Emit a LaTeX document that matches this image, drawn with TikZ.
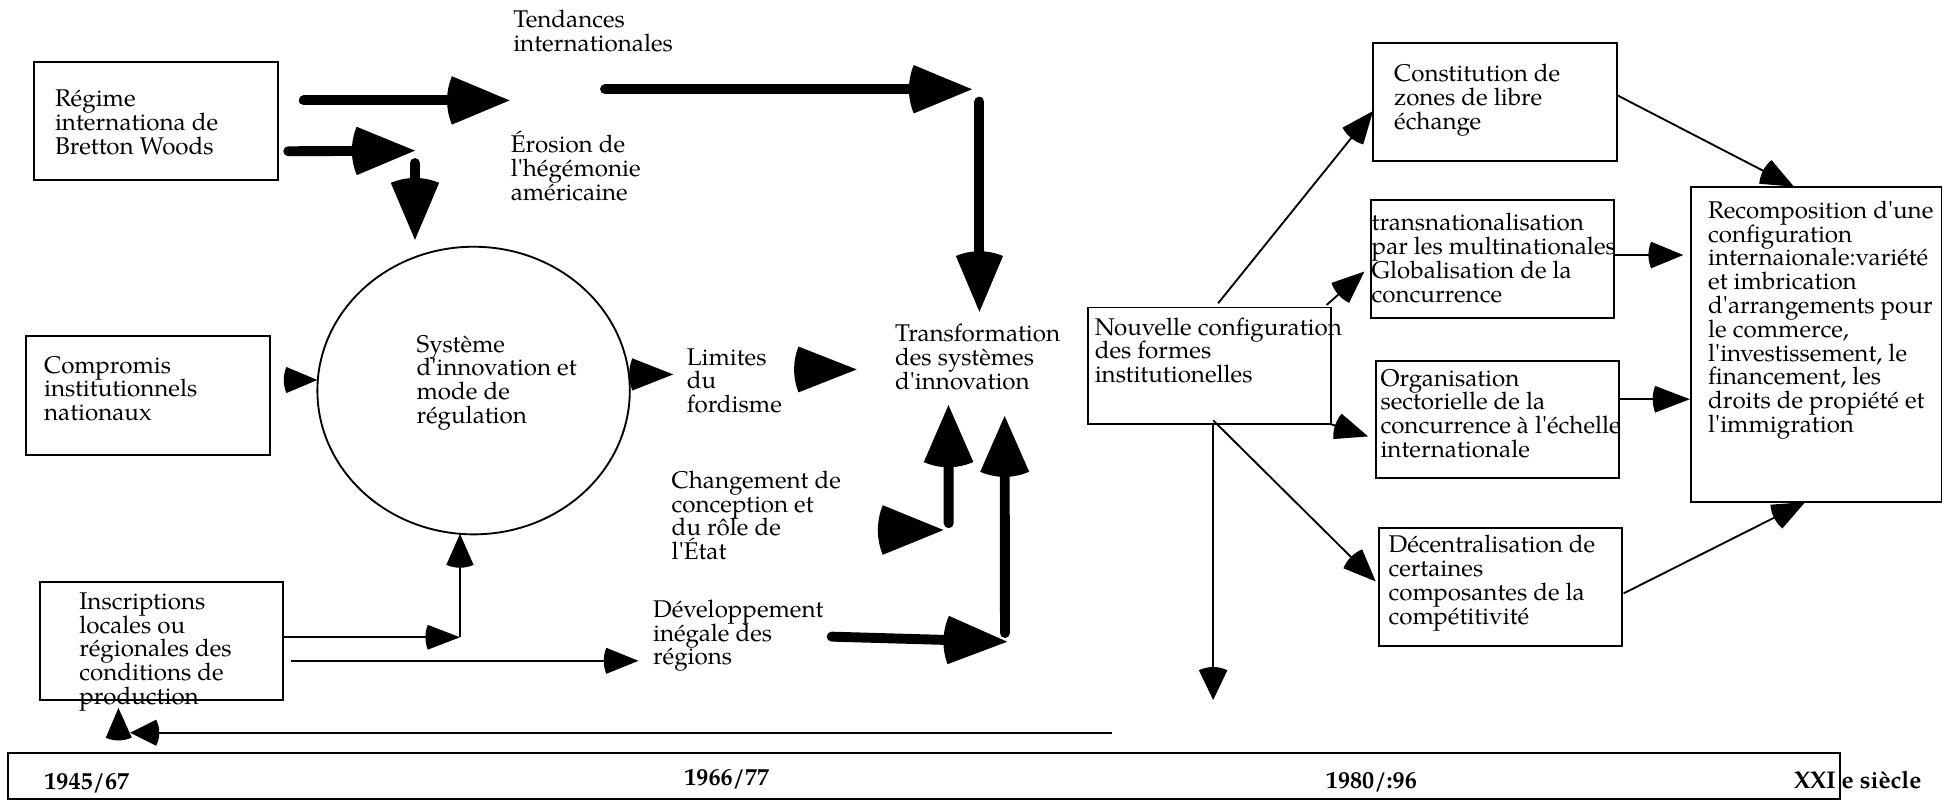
\documentclass[tikz,border=0pt]{standalone}
\usepackage{fontspec}
\setmainfont{TeX Gyre Pagella}[Ligatures=TeXOff]
\usetikzlibrary{arrows.meta,shapes.geometric}

% Arrow head shaped like a fan: straight sides, back edge an arc centred on the tip
\pgfdeclarearrow{
  name = Fan,
  parameters = {\the\pgfarrowlength,\the\pgfarrowwidth},
  setup code = {
    \pgfarrowssettipend{0pt}
    \pgfarrowssetlineend{-0.5\pgfarrowlength}
    \pgfarrowssetbackend{-\pgfarrowlength}
    \pgfarrowshullpoint{0pt}{0pt}
    \pgfarrowshullpoint{-\pgfarrowlength}{0.5\pgfarrowwidth}
    \pgfarrowshullpoint{-\pgfarrowlength}{-0.5\pgfarrowwidth}
    \pgfarrowssavethe\pgfarrowlength
    \pgfarrowssavethe\pgfarrowwidth
  },
  drawing code = {
    \pgfmathsetmacro\fanR{veclen(\pgfarrowlength,0.5*\pgfarrowwidth)}
    \pgfmathsetmacro\fanA{atan2(0.5*\pgfarrowwidth,\pgfarrowlength)}
    \pgfmathsetmacro\fanB{180-\fanA}
    \pgfmathsetmacro\fanC{180+\fanA}
    \pgfpathmoveto{\pgfpointorigin}
    \pgfpathlineto{\pgfpointpolar{\fanB}{\fanR pt}}
    \pgfpatharc{\fanB}{\fanC}{\fanR pt}
    \pgfpathclose
    \pgfusepathqfill
  },
  defaults = {length = 26pt, width = 22pt}
}

% left-aligned block of lines, baseline on the first line
\newcommand\lines[1]{\vtop{\lineskiplimit=-\maxdimen\halign{##\hfil\cr#1\crcr}}}

\tikzset{
  box/.style={draw, line width=1.5pt, rectangle, inner sep=0pt, outer sep=0pt, anchor=north west},
  txt/.style={inner sep=0pt, outer sep=0pt, anchor=base west,
              font=\fontsize{19.5}{19.2}\selectfont},
  yearlbl/.style={txt, font=\fontsize{19.5}{19.2}\selectfont\bfseries},
  heavy/.style={line width=8pt, line cap=round, -{Fan[length=46pt,width=39pt]}},
  thinarrow/.style={line width=1.5pt, -{Fan[length=26pt,width=21.5pt]}},
  headonly/.style={line cap=butt},
}

\begin{document}
\begin{tikzpicture}[x=1pt,y=-1pt]
\useasboundingbox (0,0) rectangle (1568,646);

% ---------- boxes ----------
\node[box, minimum width=196.8pt, minimum height=95.3pt] (regime) at (27.7,49.7) {};
\node[box, minimum width=197pt, minimum height=96pt] (comp) at (21,271) {};
\node[box, minimum width=196.2pt, minimum height=95pt] (inscr) at (32.3,469.6) {};
\node[draw, ellipse, line width=1.5pt, inner sep=0pt,
      minimum width=252pt, minimum height=232pt] (sys) at (382,315) {};
\node[box, minimum width=195.6pt, minimum height=94.3pt] (nouv) at (877.7,248) {};
\node[box, minimum width=196.5pt, minimum height=95.6pt] (const) at (1107.5,34.4) {};
\node[box, minimum width=196pt, minimum height=95pt] (transnat) at (1106,161.5) {};
\node[box, minimum width=196pt, minimum height=94.8pt] (organ) at (1110,291) {};
\node[box, minimum width=196pt, minimum height=95pt] (decent) at (1112,426) {};
\node[box, minimum width=202.3pt, minimum height=254.1pt] (recomp) at (1363.7,150.6) {};
\node[box, minimum width=1477.3pt, minimum height=37.6pt] (periods) at (6.7,607) {};

% ---------- texts ----------
\node[txt] (tTend) at (414,22.3) {\lines{Tendances\cr internationales}};
\node[txt] (tEros) at (412,123.4) {\lines{Érosion de\cr l'hégémonie\cr américaine}};
\node[txt] (tRegime) at (44.4,86) {\lines{Régime\cr internationa de\cr Bretton Woods}};
\node[txt] (tComp) at (35.6,301) {\lines{Compromis\cr institutionnels\cr nationaux}};
\node[txt] (tSys) at (336,284) {\lines{Système\cr d'innovation et\cr mode de\cr régulation}};
\node[txt] (tLim) at (554,294.4) {\lines{Limites\cr du\cr fordisme}};
\node[txt] (tTrans) at (722,275.6) {\lines{Transformation\cr des systèmes\cr d'innovation}};
\node[txt] (tChg) at (541.8,393.9) {\lines{Changement de\cr conception et\cr du rôle de\cr l'État}};
\node[txt] (tDev) at (526.8,497.9) {\lines{Développement\cr inégale des\cr régions}};
\node[txt] (tInscr) at (64,491.5) {\lines{Inscriptions\cr locales ou\cr régionales des\cr conditions de\cr production}};
\node[txt] (tNouv) at (883,270.2) {\lines{Nouvelle configuration\cr des formes\cr institutionelles}};
\node[txt] (tConst) at (1124.5,66) {\lines{Constitution de\cr zones de libre\cr échange}};
\node[txt] (tTransnat) at (1106.4,186) {\lines{transnationalisation\cr par les multinationales\cr Globalisation de la\cr concurrence}};
\node[txt] (tOrgan) at (1113.5,311.4) {\lines{Organisation\cr sectorielle de la\cr concurrence à l'échelle\cr internationale}};
\node[txt] (tDecent) at (1120,446) {\lines{Décentralisation de\cr certaines\cr composantes de la\cr compétitivité}};
\node[txt] (tRecomp) at (1377.8,176) {\lines{Recomposition d'une\cr configuration\cr internaionale:variété\cr et imbrication\cr d'arrangements pour\cr le commerce,\cr l'investissement, le\cr financement, les\cr droits de propiété et\cr l'immigration}};

\node[yearlbl] (y1) at (35.8,636.5) {1945/67};
\node[yearlbl] (y2) at (552,633.5) {1966/77};
\node[yearlbl] (y3) at (1069.5,636) {1980/:96};
\node[yearlbl] (y4) at (1447,636) {XXI e siècle};

% ---------- connector end points ----------
\coordinate (a1s) at (245,81);      \coordinate (a1e) at (411,81);
\coordinate (a2s) at (232.5,122);   \coordinate (a2e) at (334.7,121.5);
\coordinate (a3s) at (334.7,131.5); \coordinate (a3e) at (334.7,193.5);
\coordinate (a4s) at (488,72);      \coordinate (a4e) at (784,72);
\coordinate (a5s) at (790,82);      \coordinate (a5e) at (790,251.5);
\coordinate (hcs) at (231,306.5);   \coordinate (hce) at (256,306.5);
\coordinate (hss) at (510,302);     \coordinate (hse) at (543,302);
\coordinate (hls) at (644,298);     \coordinate (hle) at (691,298);
\coordinate (hgs) at (712,427.5);   \coordinate (hge) at (761,427.5);
\coordinate (vgs) at (765.2,422);   \coordinate (vge) at (765,326.7);
\coordinate (dvs) at (670.8,513.5); \coordinate (dve) at (812.4,517.6);
\coordinate (vds) at (810.6,510.6); \coordinate (vde) at (810.3,335.5);
\coordinate (i1s) at (228.5,514);   \coordinate (i1c) at (371,514);
\coordinate (i1e) at (371,430.6);
\coordinate (i2s) at (235,533);     \coordinate (i2e) at (515,533);
\coordinate (bks) at (897,591);     \coordinate (bke) at (105,591);
\coordinate (bus) at (95.8,595);    \coordinate (bue) at (95.5,571);
\coordinate (nds) at (978.5,342.3); \coordinate (nde) at (978.5,564.6);
\coordinate (ncs) at (982.5,244.6); \coordinate (nce) at (1107.5,89.5);
\coordinate (nts) at (1070,246);    \coordinate (nte) at (1100.5,219);
\coordinate (nos) at (1073,342);    \coordinate (noe) at (1103.5,352);
\coordinate (nes) at (978.5,339);   \coordinate (nee) at (1109.6,469);
\coordinate (crs) at (1304,76.6);   \coordinate (cre) at (1447,150.6);
\coordinate (trs) at (1302.6,205.7);\coordinate (tre) at (1357.7,205.7);
\coordinate (ors) at (1305,322);    \coordinate (ore) at (1363,322);
\coordinate (drs) at (1309.6,478.6);\coordinate (dre) at (1456,405);

% ---------- heavy arrows ----------
\draw[heavy, -{Fan[length=46.5pt,width=39pt]}] (a1s) -- (a1e);
\draw[heavy, -{Fan[length=47pt,width=39pt]}] (a2s) -- (a2e);
\draw[heavy] (a3s) -- (a3e);
\draw[heavy, -{Fan[length=47pt,width=39pt]}] (a4s) -- (a4e);
\draw[heavy, -{Fan[length=45pt,width=38pt]}] (a5s) -- (a5e);
\draw[heavy, headonly, -{Fan[length=47pt,width=37pt]}] (hls) -- (hle);
\draw[heavy, headonly, -{Fan[length=49pt,width=40pt]}] (hgs) -- (hge);
\draw[heavy, -{Fan[length=46pt,width=40pt]}] (vgs) -- (vge);
\draw[heavy, -{Fan[length=47.6pt,width=39pt]}] (dvs) -- (dve);
\draw[heavy, -{Fan[length=45pt,width=39.5pt]}] (vds) -- (vde);

% ---------- thin arrows ----------
\draw[thinarrow, headonly, -{Fan[length=25pt,width=21pt]}] (hcs) -- (hce);
\draw[thinarrow, headonly, -{Fan[length=33pt,width=26pt]}] (hss) -- (hse);
\draw[thinarrow, -{Fan[length=26pt,width=20pt]}] (i1s) -- (i1c);
\draw[thinarrow, -{Fan[length=25pt,width=22pt]}] (i1c) -- (i1e);
\draw[thinarrow, -{Fan[length=26pt,width=21pt]}] (i2s) -- (i2e);
\draw[thinarrow, -{Fan[length=21pt,width=21pt]}] (bks) -- (bke);
\draw[thinarrow, headonly, -{Fan[length=24pt,width=21pt]}] (bus) -- (bue);
\draw[thinarrow, -{Fan[length=24pt,width=23pt]}] (nds) -- (nde);
\draw[thinarrow] (ncs) -- (nce);
\draw[thinarrow] (nts) -- (nte);
\draw[thinarrow] (nos) -- (noe);
\draw[thinarrow] (nes) -- (nee);
\draw[thinarrow] (crs) -- (cre);
\draw[thinarrow] (trs) -- (tre);
\draw[thinarrow, -{Fan[length=28pt,width=21.5pt]}] (ors) -- (ore);
\draw[thinarrow] (drs) -- (dre);
\end{tikzpicture}
\end{document}
